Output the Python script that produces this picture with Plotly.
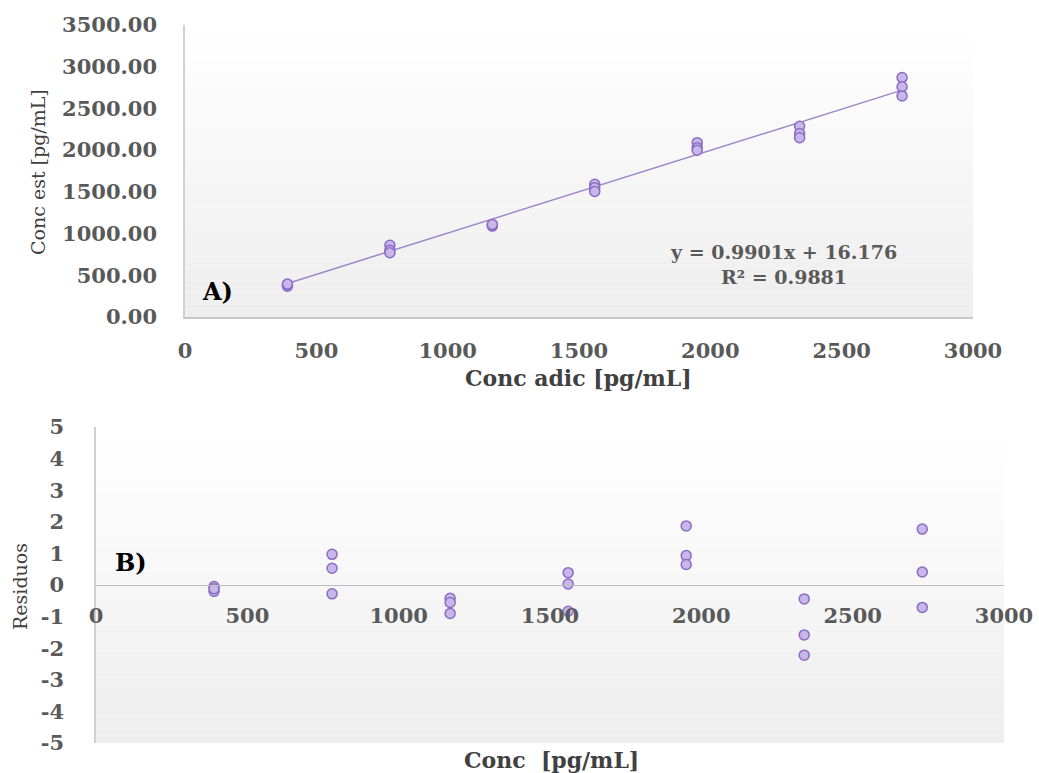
import plotly.graph_objects as go

# ---- Data: calibration (panel A) ----
conc_added = [390, 390, 390, 780, 780, 780, 1170, 1170, 1170,
              1560, 1560, 1560, 1950, 1950, 1950, 2340, 2340, 2340,
              2730, 2730, 2730]
conc_est = [370, 385, 395, 860, 800, 770, 1090, 1100, 1110,
            1590, 1550, 1505, 2090, 2030, 2000, 2285, 2200, 2150,
            2870, 2760, 2650]
slope = 0.9901
intercept = 16.176
r2 = 0.9881
fit_x = [390, 2730]

# ---- Data: residuals (panel B) ----
res_x = conc_added
residuals = [-0.05, -0.2, -0.12, 0.97, 0.53, -0.28, -0.42, -0.55, -0.9,
             0.39, 0.03, -0.83, 1.87, 0.93, 0.65, -0.44, -1.58, -2.22,
             1.77, 0.41, -0.71]

top_xticks = [0, 500, 1000, 1500, 2000, 2500, 3000]
top_yticks = [0, 500, 1000, 1500, 2000, 2500, 3000, 3500]
bot_yticks = [-5, -4, -3, -2, -1, 0, 1, 2, 3, 4, 5]
bot_ylabels = ["-5", "-4", "-3", "-2", "-1", "0", "1", "2", "3", "4", "5"]

FONT = "DejaVu Serif"
TICK_COLOR = "#595959"
TITLE_COLOR = "#404040"
MK_FILL = "#c9b6ea"
MK_LINE = "#8a6cc2"

fit_y = [slope * v + intercept for v in fit_x]

fig = go.Figure()

fig.add_trace(go.Scatter(x=fit_x, y=fit_y, mode="lines",
                         line=dict(color="#9f86c8", width=1.5),
                         xaxis="x", yaxis="y", showlegend=False, hoverinfo="skip"))
fig.add_trace(go.Scatter(x=conc_added, y=conc_est, mode="markers",
                         marker=dict(size=10, color=MK_FILL, line=dict(color=MK_LINE, width=1.5)),
                         xaxis="x", yaxis="y", showlegend=False))
fig.add_trace(go.Scatter(x=res_x, y=residuals, mode="markers",
                         marker=dict(size=10, color=MK_FILL, line=dict(color=MK_LINE, width=1.5)),
                         xaxis="x2", yaxis="y2", showlegend=False))

W, H = 1039, 773
xa_dom = [185 / W, 973 / W]
ya_dom = [1 - 317 / H, 1 - 25 / H]
xb_dom = [96 / W, 1004 / W]
yb_dom = [1 - 743 / H, 1 - 427 / H]

tickfont = dict(family=FONT, size=21, color=TICK_COLOR, weight="bold")

# gradient backgrounds
shapes = []
n = 24
for axname in [("x", "y"), ("x2", "y2")]:
    for i in range(n):
        t = i / (n - 1)
        g = int(round(255 - (255 - 238) * (1 - t)))
        shapes.append(dict(type="rect", xref=axname[0] + " domain", yref=axname[1] + " domain",
                           x0=0, x1=1, y0=i / n, y1=(i + 1) / n,
                           fillcolor=f"rgb({g},{g},{g})", line=dict(width=0), layer="below"))

def ann(text, x, y, size, color=TITLE_COLOR, bold=True, angle=0, xref="paper", yref="paper"):
    return dict(text=text, x=x, y=y, xref=xref, yref=yref, showarrow=False,
                xanchor="center", yanchor="middle", textangle=angle, align="center",
                font=dict(family=FONT, size=size, color=color,
                          weight="bold" if bold else "normal"))

fig.update_layout(
    width=W, height=H,
    margin=dict(l=0, r=0, t=0, b=0),
    paper_bgcolor="white",
    plot_bgcolor="rgba(0,0,0,0)",
    shapes=shapes,
    xaxis=dict(domain=xa_dom, anchor="y", range=[0, 3000], tickvals=top_xticks,
               automargin=False,
               showgrid=False, zeroline=False, showline=True, linecolor="#c8c8c8", linewidth=1.5,
               ticks="", tickfont=tickfont, ticklabelstandoff=14),
    yaxis=dict(domain=ya_dom, anchor="x", range=[0, 3500], tickvals=top_yticks,
               automargin=False,
               tickformat=".2f", showgrid=False, zeroline=False, showline=True,
               linecolor="#d0d0d0", linewidth=1.5, ticks="", tickfont=tickfont,
               ticklabelstandoff=22),
    xaxis2=dict(domain=xb_dom, anchor="free", position=(yb_dom[0] + yb_dom[1]) / 2,
                automargin=False,
                range=[0, 3000], tickvals=top_xticks, showgrid=False, zeroline=False,
                showline=True, linecolor="#bdbdbd", linewidth=1.2, ticks="",
                tickfont=tickfont, ticklabelstandoff=12),
    yaxis2=dict(domain=yb_dom, anchor="x2", range=[-5, 5], tickvals=bot_yticks,
                ticktext=bot_ylabels, automargin=False,
                showgrid=False, zeroline=False, showline=True, linecolor="#d0d0d0",
                linewidth=1.5, ticks="", tickfont=tickfont, ticklabelstandoff=26),
    annotations=[
        ann(f"y = {slope}x + {intercept}<br>R² = {r2}", 2280, 630, 19, color=TICK_COLOR,
            xref="x", yref="y"),
        ann("A)", 122, 300, 24, color="black", xref="x", yref="y"),
        ann("B)", 116, 0.7, 24, color="black", xref="x2", yref="y2"),
        ann("Conc adic [pg/mL]", 578 / W, 1 - 378 / H, 22),
        ann("Conc est [pg/mL]", 38 / W, 1 - 172 / H, 19, bold=False, angle=-90),
        ann("Residuos", 20 / W, 1 - 587 / H, 19, bold=False, angle=-90),
        ann("Conc  [pg/mL]", 551 / W, 1 - 760 / H, 22),
    ],
)

fig.write_html("out.html")
